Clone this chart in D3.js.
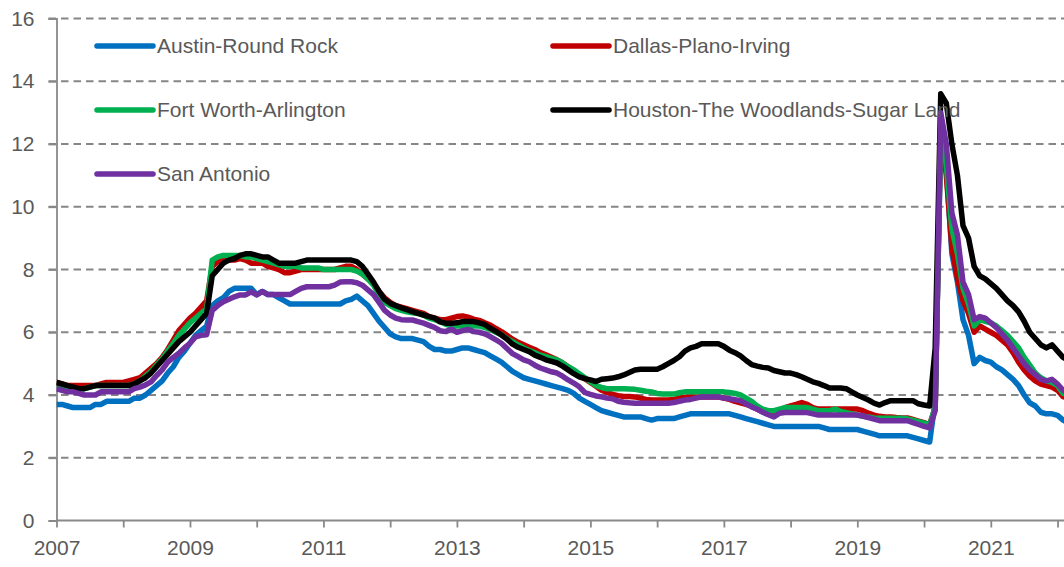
<!DOCTYPE html>
<html>
<head>
<meta charset="utf-8">
<script src="https://cdn.jsdelivr.net/npm/d3@7"></script>
<style>
  body { margin: 0; background: #fff; }
  svg { display: block; }
  text { font-family: "Liberation Sans", Arial, sans-serif; fill: #595959; }
</style>
</head>
<body>
<svg id="chart" width="1064" height="567"></svg>
<script>
// monthly values, Jan 2007 .. Mar 2022
var startYear = 2007;

var austin = [
  3.7,3.7,3.65,3.6,3.6,3.6,3.6,3.7,3.7,3.8,3.8,3.8,
  3.8,3.8,3.9,3.9,4.0,4.15,4.3,4.45,4.7,4.9,5.2,5.4,
  5.65,5.9,6.05,6.2,6.85,7.0,7.1,7.3,7.4,7.4,7.4,7.4,
  7.2,7.3,7.2,7.2,7.1,7.0,6.9,6.9,6.9,6.9,6.9,6.9,
  6.9,6.9,6.9,6.9,7.0,7.05,7.15,7.0,6.85,6.6,6.35,6.15,
  5.95,5.85,5.8,5.8,5.8,5.75,5.7,5.55,5.45,5.45,5.4,5.4,
  5.45,5.5,5.5,5.45,5.4,5.35,5.25,5.15,5.05,4.9,4.75,4.65,
  4.55,4.5,4.45,4.4,4.35,4.3,4.25,4.2,4.15,4.05,3.9,3.8,
  3.7,3.6,3.5,3.45,3.4,3.35,3.3,3.3,3.3,3.3,3.25,3.2,
  3.25,3.25,3.25,3.25,3.3,3.35,3.4,3.4,3.4,3.4,3.4,3.4,
  3.4,3.4,3.35,3.3,3.25,3.2,3.15,3.1,3.05,3.0,3.0,3.0,
  3.0,3.0,3.0,3.0,3.0,3.0,2.95,2.9,2.9,2.9,2.9,2.9,
  2.9,2.85,2.8,2.75,2.7,2.7,2.7,2.7,2.7,2.7,2.65,2.6,
  2.55,2.5,3.8,12.2,11.2,8.5,7.6,6.4,5.9,5.0,5.2,5.1,
  5.05,4.9,4.8,4.65,4.5,4.3,4.0,3.75,3.65,3.45,3.4,3.4,
  3.35,3.2,3.1
];

var dallas = [
  4.4,4.35,4.3,4.3,4.3,4.3,4.3,4.3,4.35,4.4,4.4,4.4,
  4.4,4.45,4.5,4.55,4.7,4.85,5.0,5.2,5.45,5.75,6.05,6.25,
  6.45,6.6,6.8,7.0,8.1,8.25,8.3,8.3,8.3,8.35,8.3,8.2,
  8.2,8.2,8.1,8.05,8.0,7.9,7.9,7.95,8.0,8.0,8.0,8.0,
  8.0,8.0,8.0,8.05,8.1,8.1,8.0,7.85,7.7,7.55,7.3,7.1,
  6.95,6.85,6.8,6.75,6.7,6.65,6.6,6.5,6.45,6.4,6.4,6.45,
  6.5,6.52,6.48,6.42,6.38,6.3,6.23,6.12,6.02,5.9,5.78,5.68,
  5.6,5.52,5.45,5.35,5.28,5.2,5.12,5.02,4.9,4.78,4.65,4.52,
  4.4,4.28,4.15,4.08,4.02,3.98,3.95,3.95,3.94,3.9,3.86,3.84,
  3.84,3.84,3.84,3.86,3.9,3.93,3.94,3.94,3.94,3.94,3.94,3.94,
  3.9,3.86,3.8,3.75,3.7,3.65,3.55,3.47,3.42,3.45,3.5,3.6,
  3.65,3.7,3.76,3.7,3.6,3.55,3.55,3.55,3.55,3.55,3.55,3.55,
  3.55,3.5,3.42,3.36,3.32,3.3,3.3,3.28,3.27,3.27,3.22,3.17,
  3.12,3.05,3.6,12.6,11.0,8.7,7.7,7.0,6.6,6.0,6.2,6.1,
  6.0,5.9,5.75,5.6,5.35,5.05,4.8,4.6,4.45,4.35,4.3,4.25,
  4.15,3.95,3.9
];

var fortWorth = [
  4.3,4.3,4.25,4.2,4.2,4.2,4.25,4.3,4.3,4.3,4.3,4.3,
  4.3,4.3,4.35,4.45,4.6,4.75,4.95,5.15,5.4,5.65,5.9,6.1,
  6.3,6.45,6.6,6.75,8.3,8.4,8.45,8.45,8.45,8.45,8.4,8.4,
  8.35,8.3,8.25,8.2,8.15,8.1,8.1,8.1,8.05,8.05,8.05,8.05,
  8.0,8.0,8.0,8.0,8.0,8.0,7.95,7.85,7.7,7.5,7.2,6.95,
  6.85,6.75,6.7,6.65,6.62,6.6,6.55,6.45,6.4,6.34,6.25,6.2,
  6.2,6.2,6.2,6.2,6.2,6.15,6.1,6.0,5.92,5.8,5.7,5.6,
  5.5,5.42,5.35,5.27,5.22,5.17,5.12,5.02,4.9,4.8,4.68,4.55,
  4.42,4.3,4.24,4.2,4.2,4.2,4.2,4.19,4.18,4.15,4.12,4.1,
  4.05,4.03,4.03,4.03,4.07,4.1,4.1,4.1,4.1,4.1,4.1,4.1,
  4.1,4.08,4.05,4.0,3.9,3.8,3.65,3.55,3.5,3.5,3.55,3.6,
  3.6,3.6,3.6,3.6,3.55,3.5,3.5,3.5,3.55,3.48,3.44,3.4,
  3.36,3.32,3.3,3.27,3.26,3.26,3.26,3.26,3.26,3.24,3.2,3.15,
  3.1,3.05,3.6,12.8,11.3,9.3,8.5,7.4,6.9,6.2,6.4,6.35,
  6.3,6.2,6.05,5.9,5.7,5.5,5.2,4.95,4.7,4.55,4.45,4.4,
  4.3,4.05,4.0
];

var houston = [
  4.4,4.35,4.3,4.25,4.2,4.2,4.25,4.3,4.3,4.3,4.3,4.3,
  4.3,4.3,4.35,4.45,4.55,4.7,4.9,5.1,5.3,5.5,5.7,5.85,
  6.0,6.2,6.4,6.6,7.8,8.0,8.2,8.3,8.35,8.45,8.5,8.5,
  8.45,8.4,8.4,8.3,8.2,8.2,8.2,8.2,8.25,8.3,8.3,8.3,
  8.3,8.3,8.3,8.3,8.3,8.3,8.25,8.1,7.85,7.6,7.3,7.05,
  6.92,6.85,6.78,6.72,6.66,6.6,6.55,6.5,6.45,6.33,6.29,6.29,
  6.3,6.34,6.34,6.34,6.3,6.25,6.13,6.03,5.91,5.78,5.62,5.52,
  5.45,5.38,5.27,5.2,5.12,5.07,5.02,4.92,4.8,4.68,4.58,4.52,
  4.48,4.43,4.5,4.52,4.54,4.58,4.64,4.72,4.8,4.82,4.82,4.82,
  4.82,4.9,5.0,5.1,5.22,5.4,5.5,5.55,5.63,5.63,5.63,5.63,
  5.55,5.43,5.35,5.25,5.1,4.97,4.92,4.88,4.86,4.78,4.74,4.7,
  4.7,4.65,4.58,4.5,4.42,4.37,4.3,4.22,4.22,4.22,4.2,4.1,
  4.0,3.92,3.84,3.74,3.68,3.76,3.82,3.82,3.82,3.82,3.82,3.72,
  3.68,3.65,5.5,13.6,13.3,12.0,11.0,9.4,9.0,8.1,7.8,7.7,
  7.55,7.4,7.2,7.0,6.85,6.65,6.35,6.0,5.8,5.6,5.5,5.6,
  5.4,5.2,5.1
];

var sanAntonio = [
  4.2,4.15,4.1,4.1,4.05,4.0,4.0,4.0,4.1,4.1,4.1,4.1,
  4.1,4.1,4.2,4.25,4.32,4.42,4.62,4.8,5.05,5.2,5.33,5.5,
  5.65,5.85,5.9,5.92,6.7,6.85,6.97,7.05,7.13,7.19,7.19,7.29,
  7.19,7.3,7.2,7.2,7.2,7.2,7.2,7.3,7.4,7.45,7.45,7.45,
  7.45,7.45,7.5,7.6,7.61,7.61,7.58,7.5,7.35,7.2,6.95,6.7,
  6.55,6.45,6.4,6.39,6.39,6.34,6.29,6.22,6.15,6.05,6.02,6.1,
  6.0,6.05,6.09,6.02,6.0,5.95,5.86,5.76,5.65,5.48,5.32,5.22,
  5.12,5.06,4.95,4.86,4.8,4.74,4.7,4.6,4.48,4.38,4.26,4.08,
  4.02,3.97,3.94,3.9,3.88,3.8,3.77,3.75,3.74,3.74,3.74,3.74,
  3.74,3.74,3.74,3.76,3.8,3.84,3.86,3.9,3.94,3.94,3.94,3.94,
  3.9,3.88,3.85,3.82,3.72,3.62,3.55,3.45,3.37,3.3,3.42,3.44,
  3.44,3.44,3.44,3.44,3.4,3.36,3.36,3.36,3.36,3.36,3.36,3.36,
  3.36,3.33,3.28,3.23,3.18,3.18,3.18,3.18,3.18,3.18,3.12,3.06,
  3.0,2.95,3.5,13.0,12.0,9.8,9.1,7.6,7.2,6.4,6.5,6.45,
  6.3,6.15,5.95,5.75,5.5,5.25,5.0,4.8,4.65,4.5,4.45,4.5,
  4.35,4.15,4.05
];

var seriesNames = ["Austin-Round Rock", "Dallas-Plano-Irving", "Fort Worth-Arlington",
                   "Houston-The Woodlands-Sugar Land", "San Antonio"];
var seriesValues = [austin, dallas, fortWorth, houston, sanAntonio];
var seriesColors = ["#0070C0", "#C00000", "#00B050", "#000000", "#7030A0"];

var yTicks = [0, 2, 4, 6, 8, 10, 12, 14, 16];
var yearTicks = d3.range(2007, 2023);
var yearLabels = [2007, 2009, 2011, 2013, 2015, 2017, 2019, 2021];

var svg = d3.select("#chart");
var W = 1064;
var plotLeft = 56.5, plotTop = 18.5, plotBottom = 520.5;
var fontSize = 21;

var x = d3.scaleLinear().domain([2007, 2021]).range([plotLeft, 990.8]);
var y = d3.scaleLinear().domain([0, 16]).range([plotBottom, plotTop]);

var axisColor = "#898989";

// gridlines
svg.append("g")
  .selectAll("line")
  .data(yTicks.filter(function(d){ return d > 0; }))
  .enter().append("line")
  .attr("x1", plotLeft - 8).attr("x2", W)
  .attr("y1", function(d){ return y(d); })
  .attr("y2", function(d){ return y(d); })
  .attr("stroke", "#868686")
  .attr("stroke-width", 1.8)
  .attr("stroke-dasharray", "7.5,5");

// y axis
var yAxis = d3.axisLeft(y).tickValues(yTicks).tickSize(8).tickPadding(14);
var gy = svg.append("g").attr("transform", "translate(" + plotLeft + ",0)").call(yAxis);
gy.select(".domain").attr("stroke", axisColor).attr("stroke-width", 1.8);
gy.selectAll(".tick line").attr("stroke", axisColor).attr("stroke-width", 1.8);
gy.selectAll(".tick text").attr("font-size", fontSize).attr("fill", "#595959")
  .style("font-family", "'Liberation Sans', Arial, sans-serif");

// x axis
var xAxis = d3.axisBottom(x).tickValues(yearTicks).tickSize(7)
  .tickFormat(function(d){ return yearLabels.indexOf(d) >= 0 ? d : ""; })
  .tickPadding(13);
var gx = svg.append("g").attr("transform", "translate(0," + plotBottom + ")").call(xAxis);
gx.select(".domain").attr("stroke", axisColor).attr("stroke-width", 1.8)
  .attr("d", "M" + plotLeft + ",0H" + W);
gx.selectAll(".tick line").attr("stroke", axisColor).attr("stroke-width", 1.8);
gx.selectAll(".tick text").attr("font-size", fontSize).attr("fill", "#595959")
  .style("font-family", "'Liberation Sans', Arial, sans-serif");

// lines
var line = d3.line()
  .x(function(d, i){ return x(startYear + i / 12); })
  .y(function(d){ return y(d); });

svg.append("defs").append("clipPath").attr("id", "plot")
  .append("rect").attr("x", plotLeft).attr("y", 0).attr("width", W - plotLeft).attr("height", plotBottom);

svg.append("g").attr("clip-path", "url(#plot)")
  .selectAll("path")
  .data(seriesValues)
  .enter().append("path")
  .attr("d", line)
  .attr("fill", "none")
  .attr("stroke", function(d, i){ return seriesColors[i]; })
  .attr("stroke-width", 5.5)
  .attr("stroke-linejoin", "round");

// legend
var legendPos = [[97, 46], [553, 46], [97, 110], [553, 110], [97, 174]];
var lg = svg.append("g").selectAll("g")
  .data(seriesNames)
  .enter().append("g")
  .attr("transform", function(d, i){ return "translate(" + legendPos[i][0] + "," + legendPos[i][1] + ")"; });
lg.append("line")
  .attr("x1", 0).attr("x2", 56)
  .attr("stroke", function(d, i){ return seriesColors[i]; })
  .attr("stroke-width", 5.5)
  .attr("stroke-linecap", "round");
lg.append("text")
  .attr("x", 60).attr("dy", "0.35em")
  .attr("font-size", fontSize)
  .text(function(d){ return d; });
</script>
</body>
</html>
